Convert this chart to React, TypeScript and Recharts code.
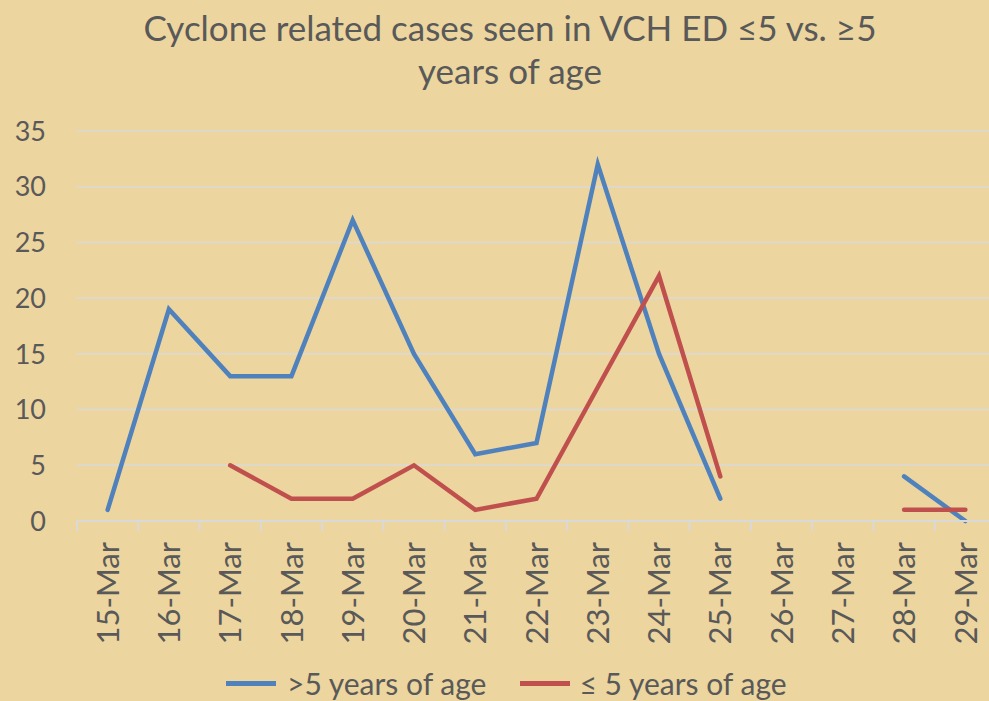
import { LineChart, Line, XAxis, YAxis, CartesianGrid } from 'recharts'

const dates = [
  '15-Mar', '16-Mar', '17-Mar', '18-Mar', '19-Mar', '20-Mar', '21-Mar', '22-Mar',
  '23-Mar', '24-Mar', '25-Mar', '26-Mar', '27-Mar', '28-Mar', '29-Mar',
]
const over5 = [1, 19, 13, 13, 27, 15, 6, 7, 32, 15, 2, null, null, 4, 0]
const under5 = [null, null, 5, 2, 2, 5, 1, 2, 12, 22, 4, null, null, 1, 1]
const yTicks = [0, 5, 10, 15, 20, 25, 30, 35]

const data = dates.map((date, i) => ({ date, over5: over5[i], under5: under5[i] }))

const FONT = 'Lato, "Open Sans", sans-serif'
const TEXT = '#595959'
const GRID = '#d9d9d9'
const BLUE = '#4f81bd'
const RED = '#c0504d'

const CHART_W = 1000
const PLOT_LEFT = 77
const PLOT_RIGHT = 996
const BAND = (PLOT_RIGHT - PLOT_LEFT) / dates.length

function XTick({ x, y, payload }: any) {
  return (
    <g>
      <line x1={x - BAND / 2} y1={y - 8} x2={x - BAND / 2} y2={y + 2} stroke={GRID} strokeWidth={2} />
      <text
        x={x}
        y={y + 13}
        transform={`rotate(-90, ${x}, ${y + 13})`}
        textAnchor="end"
        dy="0.36em"
        fill={TEXT}
        fontSize={31}
        fontFamily={FONT}
      >
        {payload.value}
      </text>
    </g>
  )
}

function YTick({ y, payload }: any) {
  return (
    <text x={46} y={y} dy="0.36em" textAnchor="end" fill={TEXT} fontSize={27} fontFamily={FONT}>
      {payload.value}
    </text>
  )
}

export default function App() {
  return (
    <div
      style={{
        position: 'absolute',
        left: 0,
        top: 0,
        width: 989,
        height: 701,
        overflow: 'hidden',
        background: '#ecd59e',
        fontFamily: FONT,
      }}
    >
      {/* title */}
      <div
        style={{
          position: 'absolute',
          left: 0,
          top: 6,
          width: 1020,
          textAlign: 'center',
          color: TEXT,
          fontSize: 35,
          lineHeight: '43px',
        }}
      >
        Cyclone related cases seen in VCH ED ≤5 vs. ≥5
        <br />
        years of age
      </div>

      <LineChart
        width={CHART_W}
        height={701}
        data={data}
        margin={{ top: 131, right: CHART_W - PLOT_RIGHT, left: 17, bottom: 60 }}
      >
        <CartesianGrid vertical={false} stroke={GRID} strokeWidth={1.5} />
        <XAxis
          dataKey="date"
          interval={0}
          height={120}
          padding={{ left: BAND / 2, right: BAND / 2 }}
          axisLine={{ stroke: GRID, strokeWidth: 2 }}
          tickLine={false}
          tick={<XTick />}
        />
        <YAxis
          width={60}
          domain={[0, 35]}
          ticks={yTicks}
          axisLine={false}
          tickLine={false}
          tick={<YTick />}
        />
        <Line
          type="linear"
          dataKey="over5"
          stroke={BLUE}
          strokeWidth={4.5}
          strokeLinecap="round"
          dot={false}
          connectNulls={false}
          isAnimationActive={false}
        />
        <Line
          type="linear"
          dataKey="under5"
          stroke={RED}
          strokeWidth={4.5}
          strokeLinecap="round"
          dot={false}
          connectNulls={false}
          isAnimationActive={false}
        />
      </LineChart>

      {/* legend */}
      <div
        style={{
          position: 'absolute',
          left: 226,
          top: 663,
          display: 'flex',
          alignItems: 'center',
          color: TEXT,
          fontSize: 30,
          lineHeight: '40px',
          whiteSpace: 'nowrap',
        }}
      >
        <span style={{ display: 'inline-block', width: 50, height: 5, background: BLUE, marginRight: 11 }} />
        <span>&gt;5 years of age</span>
        <span style={{ display: 'inline-block', width: 50, height: 5, background: RED, marginLeft: 34, marginRight: 9 }} />
        <span>≤ 5 years of age</span>
      </div>
    </div>
  )
}
